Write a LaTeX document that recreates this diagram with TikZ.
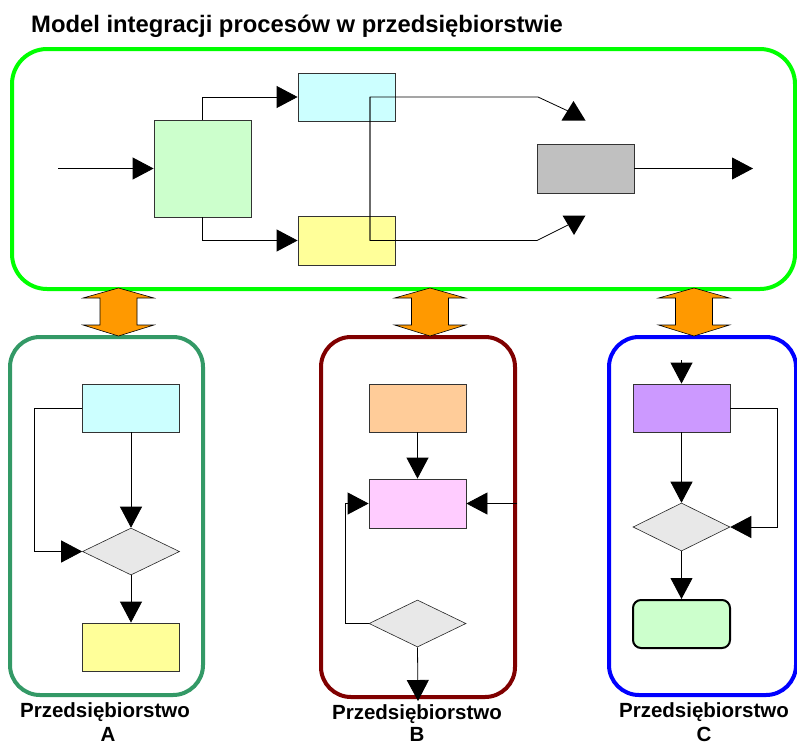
\documentclass[tikz,border=0pt]{standalone}
\usepackage{fontspec}
\setmainfont{Liberation Sans}
\usetikzlibrary{arrows.meta,shapes.geometric}
\definecolor{fgreen}{HTML}{00FF00}
\definecolor{fa}{HTML}{339966}
\definecolor{fb}{HTML}{800000}
\definecolor{fc}{HTML}{0000FF}
\definecolor{orng}{HTML}{FF9900}
\definecolor{bgreen}{HTML}{CCFFCC}
\definecolor{bcyan}{HTML}{CCFFFF}
\definecolor{byellow}{HTML}{FFFF99}
\definecolor{bgray}{HTML}{C0C0C0}
\definecolor{bpeach}{HTML}{FFCC99}
\definecolor{bpink}{HTML}{FFCCFF}
\definecolor{bpurple}{HTML}{CC99FF}
\definecolor{dgray}{HTML}{E8E8E8}
\begin{document}
\begin{tikzpicture}[x=1pt,y=-1pt,
  box/.style={draw=black!80, line width=0.8pt, minimum width=97pt, minimum height=48pt, inner sep=0pt},
  dia/.style={diamond, draw=black!85, fill=dgray, line width=0.6pt, minimum width=97pt, minimum height=47pt, inner sep=0pt},
  frame/.style={rounded corners=30pt, line width=4pt, inner sep=0pt},
  ln/.style={line width=0.8pt},
  conn/.style={line width=0.8pt, -{Triangle[length=21pt,width=22pt]}},
  lab/.style={font=\fontsize{20.5}{24}\selectfont\bfseries, inner sep=0pt, anchor=base},
  dbl/.pic={\draw[fill=orng, line width=0.6pt] (0,-24) -- (35.5,-14) -- (18.5,-14) -- (18.5,13) -- (35.5,13) -- (0,24) -- (-35.5,13) -- (-18.5,13) -- (-18.5,-14) -- (-35.5,-14) -- cycle;}
]
\useasboundingbox (0,0) rectangle (797,745);

% title
\node[font=\fontsize{23.8}{28}\selectfont\bfseries, inner sep=0pt, anchor=base west] (title) at (31,32) {Model integracji procesów w przedsiębiorstwie};

% frames
\node[frame, draw=fgreen, rounded corners=35pt, minimum width=783pt, minimum height=240pt] (fM) at (403.5,169) {};
\node[frame, draw=fa, minimum width=193pt, minimum height=358pt] (fA) at (106.5,516) {};
\node[frame, draw=fb, minimum width=194pt, minimum height=360pt] (fB) at (418,517) {};
\node[frame, draw=fc, minimum width=187pt, minimum height=358pt] (fC) at (702.5,516) {};

% orange double arrows
\pic at (118.5,312) {dbl};
\pic at (430,312) {dbl};
\pic at (694,312) {dbl};

% top model
\node[box, fill=bgreen, minimum height=97pt] (G) at (202.5,168.5) {};
\node[box, fill=bcyan] (C1) at (346.5,97) {};
\node[box, fill=byellow, minimum height=49pt] (Y1) at (346.5,240.5) {};
\node[box, fill=bgray, minimum height=49pt] (S) at (585.5,168.5) {};
\coordinate (in) at (58,168.5);
\coordinate (out) at (753,168.5);
\coordinate (p1) at (370,97);
\coordinate (p2) at (370,240.5);
\coordinate (q1) at (538,97);
\coordinate (q1e) at (568,111);
\coordinate (q2) at (537,240.5);
\coordinate (q2e) at (568,225);
\draw[conn] (in) -- (G.west);
\draw[conn] (G.north) |- (C1.west);
\draw[conn] (G.south) |- (Y1.west);
\draw[conn] (S.east) -- (out);
\draw[ln] (p2) -- (p1) -- (q1) -- (q1e);
\draw[ln] (p1) -- (p2) -- (q2) -- (q2e);
\fill (561.5,120.5) -- (585.5,120.5) -- (573.5,101) -- cycle;
\fill (562.5,215.5) -- (585.5,215.5) -- (574,235) -- cycle;

% enterprise A
\node[box, fill=bcyan] (CA) at (131,408) {};
\node[dia] (DA) at (131,551.5) {};
\node[box, fill=byellow] (YA) at (131,647) {};
\draw[conn] (CA.south) -- (DA.north);
\draw[conn] (CA.west) -- ++(-48,0) |- (DA.west);
\draw[conn] (DA.south) -- (YA.north);

% enterprise B
\node[box, fill=bpeach] (PB) at (417.5,408) {};
\node[box, fill=bpink, minimum height=49pt] (KB) at (417.5,503.5) {};
\node[dia] (DB) at (417.5,623.5) {};
\draw[conn] (PB.south) -- (KB.north);
\draw[conn] (fB.east |- KB.east) -- (KB.east);
\draw[conn] (DB.west) -- ++(-23,0) |- (KB.west);
\draw[conn] (DB.south) -- ([yshift=-2pt]fB.south);

% enterprise C
\coordinate (cin) at (681.5,360);
\node[box, fill=bpurple] (PC) at (681.5,408) {};
\node[dia, minimum height=48pt] (DC) at (681.5,527) {};
\node[box, fill=bgreen, draw=black, line width=2pt, rounded corners=8pt] (RC) at (681.5,624) {};
\draw[conn] (cin) -- (PC.north);
\draw[conn] (PC.south) -- (DC.north);
\draw[conn] (PC.east) -- ++(47,0) |- (DC.east);
\draw[conn] (DC.south) -- (RC.north);

% labels
\node[lab] (LA1) at (105,717) {Przedsiębiorstwo};
\node[lab] (LA2) at (108,741.5) {A};
\node[lab] (LB1) at (417,719.5) {Przedsiębiorstwo};
\node[lab] (LB2) at (417,741.5) {B};
\node[lab] (LC1) at (704,717) {Przedsiębiorstwo};
\node[lab] (LC2) at (704,741.5) {C};
\end{tikzpicture}
\end{document}
